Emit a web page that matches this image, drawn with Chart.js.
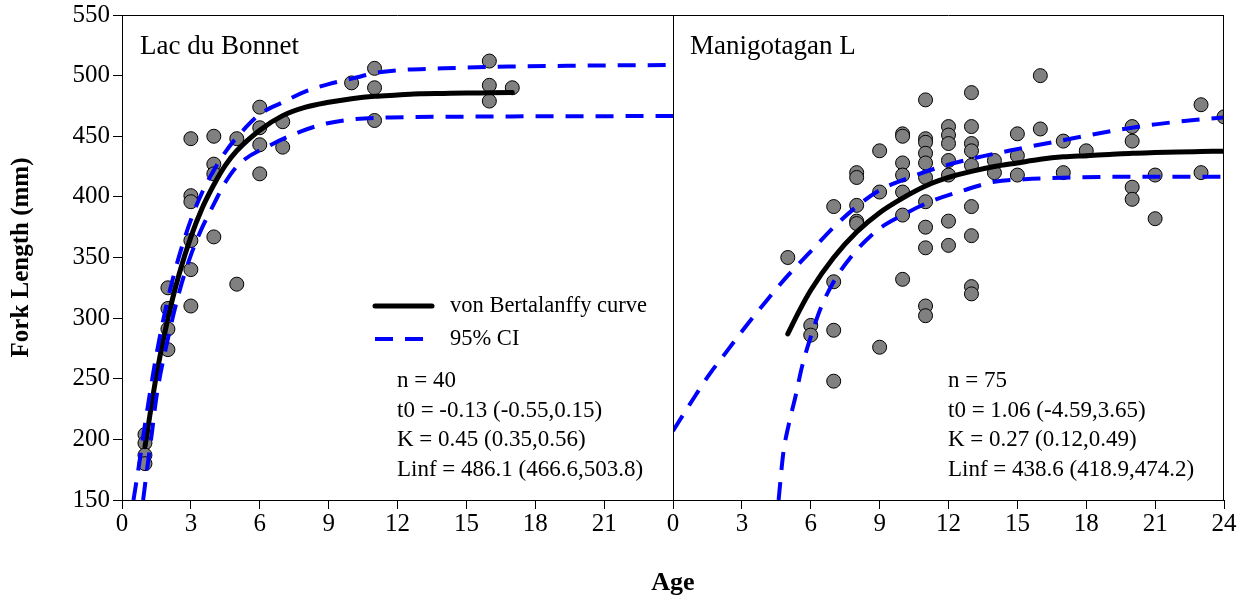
<!DOCTYPE html>
<html>
<head>
<meta charset="utf-8">
<title>Fork length at age</title>
<script src="https://cdn.jsdelivr.net/npm/chart.js@4.4.1/dist/chart.umd.min.js"></script>
<style>
  html, body { margin: 0; padding: 0; background: #fff; }
  #wrap { width: 1247px; height: 602px; }
</style>
</head>
<body>
<div id="wrap"><canvas id="c" width="1247" height="602"></canvas></div>
<script>
// ---- Lac du Bonnet: observed fish ----
const lacAges    = [1, 1, 1, 1, 2, 2, 2, 2, 3, 3, 3, 3, 3, 3, 4, 4, 4, 4, 5, 5, 6, 6, 6, 6, 7, 7, 10, 11, 11, 11, 16, 16, 16, 17];
const lacLengths = [204, 197, 187, 180, 325, 308, 291, 274, 448, 401, 396, 364, 340, 310, 450, 427, 419, 367, 448, 328, 474, 457, 443, 419, 462, 441, 494, 506, 490, 463, 512, 492, 479, 490];

// Lac du Bonnet: fitted von Bertalanffy curve and its 95% band
const lacCurveAges    = [1, 1.5, 2, 2.5, 3, 3.5, 4, 4.5, 5, 6, 7, 8, 9, 10, 11, 12, 13, 14, 15, 16, 17];
const lacCurveLengths = [194, 253, 300, 337, 367, 391, 410, 426, 438, 455, 467, 474, 478, 481, 483, 484, 485, 485.3, 485.6, 485.8, 486];
const lacUpperAges    = [0.5, 0.75, 1, 1.5, 2, 2.5, 3, 3.5, 4, 4.5, 5, 6, 7, 8, 9, 10, 11.3, 14, 17, 20, 24];
const lacUpperLengths = [150, 180, 212, 270, 316, 352, 381, 404, 422, 437, 449, 468, 478, 487, 493, 497.5, 503, 506, 507.5, 508.2, 508.8];
const lacLowerAges    = [0.92, 1, 1.3, 1.5, 2, 2.5, 3, 3.5, 4, 4.5, 5.1, 6.5, 7.8, 8.9, 10.1, 11.7, 15, 20, 24];
const lacLowerLengths = [150, 162, 205, 235, 283, 322, 352, 375, 394, 412, 427, 443, 454, 460.5, 464, 465.5, 466.2, 466.5, 466.7];

// ---- Manigotagan L: observed fish ----
const maniAges = [5, 6, 6, 7, 7, 7, 7, 8, 8, 8, 8, 8, 9, 9, 9,
  10, 10, 10, 10, 10, 10, 10,
  11, 11, 11, 11, 11, 11, 11, 11, 11, 11, 11,
  12, 12, 12, 12, 12, 12, 12,
  13, 13, 13, 13, 13, 13, 13, 13, 13,
  14, 14, 15, 15, 15, 16, 16, 17, 17, 18, 20, 20, 20, 20, 21, 21, 23, 23, 24];
const maniLengths = [350, 294, 286, 392, 330, 290, 248, 420, 416, 393, 380, 378, 438, 404, 276,
  452, 450, 428, 418, 404, 385, 332,
  480, 448, 445, 436, 428, 416, 396, 375, 358, 310, 302,
  458, 451, 444, 430, 418, 380, 360,
  486, 458, 444, 438, 426, 392, 368, 326, 320,
  430, 420, 452, 434, 418, 500, 456, 446, 420, 438, 458, 446, 408, 398, 418, 382, 476, 420, 466];

// Manigotagan L: fitted curve and 95% band
const maniCurveAges    = [5, 5.5, 6, 7, 8, 9, 10, 11, 12, 13, 14, 15, 16, 17, 18, 19, 20, 21, 22, 23, 24];
const maniCurveLengths = [287, 306, 323, 350, 371, 387, 399, 409, 416, 421, 425, 428, 431, 433, 434, 435, 436, 436.6, 437.1, 437.4, 437.7];
const maniUpperAges    = [0, 0.75, 1.6, 2.4, 3.2, 4.1, 5, 6, 7, 8, 9, 10.3, 11.7, 13.1, 14.8, 17.2, 19.3, 21.1, 22.7, 24];
const maniUpperLengths = [207, 229.5, 254, 274, 294, 315, 335, 355, 375, 392, 405.5, 416, 425, 431.8, 438.7, 447.5, 455, 460, 463.4, 465.5];
const maniLowerAges    = [4.6, 4.8, 5.05, 5.33, 5.62, 6, 6.45, 7, 7.75, 8.9, 10, 11.2, 12.6, 14, 15.3, 17.5, 20, 24];
const maniLowerLengths = [150, 188, 213, 235, 260, 284.5, 309, 330, 350.5, 372.5, 385, 396, 405, 412.5, 414.5, 416, 416.6, 416.6];

// Axis ticks
const ageTicks    = [0, 3, 6, 9, 12, 15, 18, 21, 24];
const lengthTicks = [150, 200, 250, 300, 350, 400, 450, 500, 550];

// Panel annotations
const panelNames = ['Lac du Bonnet', 'Manigotagan L'];
const lacStats  = ['n = 40', 't0 = -0.13 (-0.55,0.15)', 'K = 0.45 (0.35,0.56)', 'Linf = 486.1 (466.6,503.8)'];
const maniStats = ['n = 75', 't0 = 1.06 (-4.59,3.65)', 'K = 0.27 (0.12,0.49)', 'Linf = 438.6 (418.9,474.2)'];
const legendLabels = ['von Bertalanffy curve', '95% CI'];

const SERIF = "'Liberation Serif', 'Times New Roman', serif";
const BLUE = '#0000ff';
const DASH = [18, 12];

const pairs = (xs, ys) => xs.map((x, i) => ({x: x, y: ys[i]}));

function pointSet(xs, ys, axis) {
  return {
    data: pairs(xs, ys), xAxisID: axis, yAxisID: 'y', order: 3,
    showLine: false, pointRadius: 7, pointHoverRadius: 7,
    pointBackgroundColor: '#808080', pointBorderColor: '#000', pointBorderWidth: 1,
    clip: 0
  };
}
function curveSet(xs, ys, axis) {
  return {
    data: pairs(xs, ys), xAxisID: axis, yAxisID: 'y', order: 2,
    showLine: true, pointRadius: 0, borderColor: '#000', borderWidth: 5,
    cubicInterpolationMode: 'monotone', borderCapStyle: 'round'
  };
}
function bandSet(xs, ys, axis) {
  return {
    data: pairs(xs, ys), xAxisID: axis, yAxisID: 'y', order: 1,
    showLine: true, pointRadius: 0, borderColor: BLUE, borderWidth: 4,
    borderDash: DASH, cubicInterpolationMode: 'monotone'
  };
}

function ageAxis(hideLast) {
  return {
    type: 'linear', position: 'bottom', stack: 'age', stackWeight: 1,
    min: 0, max: 24,
    afterBuildTicks: s => { s.ticks = ageTicks.map(v => ({value: v})); },
    afterFit: s => { s.height = 102; s.paddingLeft = 0; s.paddingRight = 0; },
    ticks: {
      autoSkip: false, maxRotation: 0, color: '#000', padding: 0,
      font: {family: SERIF, size: 25},
      callback: v => (hideLast && v === 24) ? '' : String(v)
    },
    grid: {drawOnChartArea: false, drawTicks: true, tickLength: 9, color: '#000', tickWidth: 1},
    border: {display: true, color: '#000', width: 1}
  };
}

const decor = {
  id: 'decor',
  afterDatasetsDraw(chart) {
    const {ctx, chartArea: a, scales} = chart;
    const xL = scales.xL, xR = scales.xR;
    const mid = Math.round(xR.left) + 0.5;
    ctx.save();
    // panel frames
    ctx.strokeStyle = '#000';
    ctx.lineWidth = 1;
    ctx.beginPath();
    ctx.moveTo(a.left, a.top + 0.5); ctx.lineTo(a.right, a.top + 0.5);
    ctx.moveTo(a.right - 0.5, a.top); ctx.lineTo(a.right - 0.5, a.bottom);
    ctx.moveTo(mid, a.top); ctx.lineTo(mid, a.bottom);
    ctx.stroke();

    ctx.fillStyle = '#000';
    ctx.textAlign = 'left';
    ctx.textBaseline = 'middle';
    // panel names
    ctx.font = '27px ' + SERIF;
    ctx.fillText(panelNames[0], xL.left + 18, a.top + 32);
    ctx.fillText(panelNames[1], xR.left + 17, a.top + 32);

    // legend
    const lx = xL.left + 253, lw = 57, tx = xL.left + 328;
    ctx.lineWidth = 5; ctx.strokeStyle = '#000'; ctx.lineCap = 'round';
    ctx.beginPath(); ctx.moveTo(lx, a.top + 291); ctx.lineTo(lx + lw, a.top + 291); ctx.stroke();
    ctx.lineWidth = 4; ctx.strokeStyle = BLUE; ctx.lineCap = 'butt'; ctx.setLineDash(DASH);
    ctx.beginPath(); ctx.moveTo(lx, a.top + 324); ctx.lineTo(lx + lw, a.top + 324); ctx.stroke();
    ctx.setLineDash([]);
    ctx.font = '22.5px ' + SERIF;
    ctx.fillText(legendLabels[0], tx, a.top + 291);
    ctx.fillText(legendLabels[1], tx, a.top + 324);

    // fit statistics
    ctx.font = '23px ' + SERIF;
    [[lacStats, xL.left + 275], [maniStats, xR.left + 275]].forEach(([lines, x]) => {
      lines.forEach((t, i) => ctx.fillText(t, x, a.top + 366 + i * 29.5));
    });

    // shared x-axis title
    ctx.font = 'bold 26px ' + SERIF;
    ctx.textAlign = 'center';
    ctx.fillText('Age', xR.left, 583);
    ctx.restore();
  }
};

new Chart(document.getElementById('c'), {
  type: 'scatter',
  data: {
    datasets: [
      bandSet(lacUpperAges, lacUpperLengths, 'xL'),
      bandSet(lacLowerAges, lacLowerLengths, 'xL'),
      curveSet(lacCurveAges, lacCurveLengths, 'xL'),
      pointSet(lacAges, lacLengths, 'xL'),
      bandSet(maniUpperAges, maniUpperLengths, 'xR'),
      bandSet(maniLowerAges, maniLowerLengths, 'xR'),
      curveSet(maniCurveAges, maniCurveLengths, 'xR'),
      pointSet(maniAges, maniLengths, 'xR')
    ]
  },
  options: {
    responsive: false,
    animation: false,
    devicePixelRatio: 1,
    layout: {padding: {left: 0, right: 23, top: 15, bottom: 0}},
    plugins: {legend: {display: false}, tooltip: {enabled: false}},
    scales: {
      xL: ageAxis(true),
      xR: ageAxis(false),
      y: {
        type: 'linear', position: 'left', min: 150, max: 550,
        afterBuildTicks: s => { s.ticks = lengthTicks.map(v => ({value: v})); },
        afterFit: s => { s.width = 122; s.paddingTop = 0; s.paddingBottom = 0; },
        ticks: {color: '#000', padding: 3, font: {family: SERIF, size: 25}},
        grid: {drawOnChartArea: false, drawTicks: true, tickLength: 9, color: '#000'},
        border: {display: true, color: '#000', width: 1},
        title: {
          display: true, text: 'Fork Length (mm)', color: '#000',
          font: {family: SERIF, size: 25, weight: 'bold'},
          padding: {top: 7, bottom: 0}
        }
      }
    }
  },
  plugins: [decor]
});
</script>
</body>
</html>
